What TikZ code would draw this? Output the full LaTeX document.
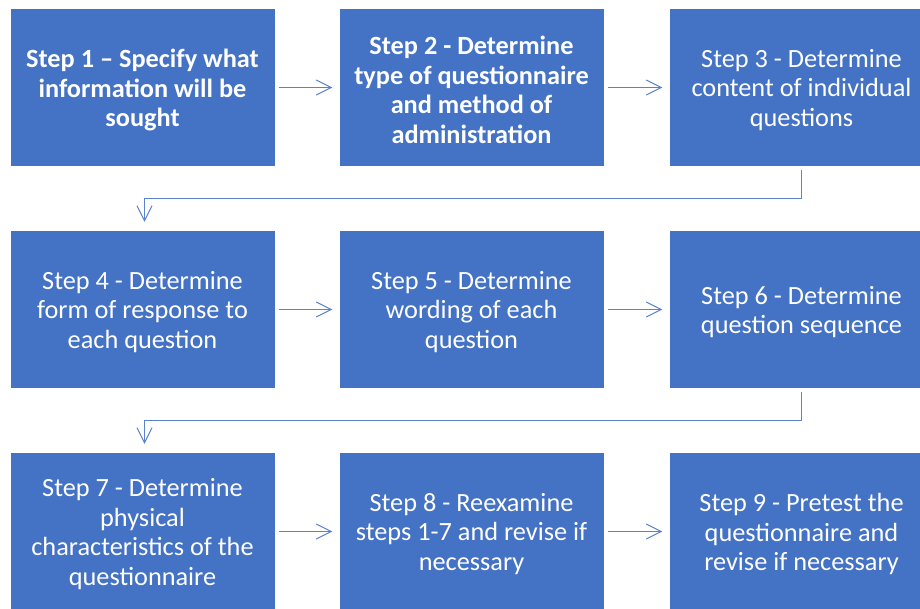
\documentclass[tikz,border=0pt]{standalone}
\usepackage{fontspec}
\setmainfont{Carlito}
\usetikzlibrary{arrows.meta}
\definecolor{stepblue}{HTML}{4472C4}
\definecolor{linkblue}{HTML}{5B82CC}
\begin{document}
\begin{tikzpicture}[x=1pt,y=-1pt,
  stepbox/.style={fill=stepblue, minimum width=264pt, minimum height=157pt, inner sep=0pt},
  steptext/.style={text=white, inner sep=0pt, align=center, yshift=-2.5pt,
    font=\fontsize{26.3}{29.6}\selectfont},
  link/.style={draw=linkblue, line width=1pt,
    -{Straight Barb[length=15pt,width=15pt,line width=1pt]}},
  flow/.style={link, shorten <=4pt, shorten >=7pt},
  wrap/.style={link, shorten <=4pt, shorten >=9pt}]
\useasboundingbox (0,0) rectangle (920,608);
\clip (0,0) rectangle (920,608);

% boxes, three rows of three
\node[stepbox] (s1) at (142.5,87.5) {};
\node[stepbox] (s2) at (471.5,87.5) {};
\node[stepbox] (s3) at (801.5,87.5) {};
\node[stepbox] (s4) at (142.5,309.5) {};
\node[stepbox] (s5) at (471.5,309.5) {};
\node[stepbox] (s6) at (801.5,309.5) {};
\node[stepbox] (s7) at (142.5,531.5) {};
\node[stepbox] (s8) at (471.5,531.5) {};
\node[stepbox] (s9) at (801.5,531.5) {};

% box labels
\node[steptext] (t1) at (s1) {\bfseries Step 1 – Specify what\\\bfseries information will be\\\bfseries sought};
\node[steptext] (t2) at (s2) {\bfseries Step 2 - Determine\\\bfseries type of questionnaire\\\bfseries and method of\\\bfseries administration};
\node[steptext] (t3) at (s3) {Step 3 - Determine\\content of individual\\questions};
\node[steptext] (t4) at (s4) {Step 4 - Determine\\form of response to\\each question};
\node[steptext] (t5) at (s5) {Step 5 - Determine\\wording of each\\question};
\node[steptext] (t6) at (s6) {Step 6 - Determine\\question sequence};
\node[steptext] (t7) at (s7) {Step 7 - Determine\\physical\\characteristics of the\\questionnaire};
\node[steptext] (t8) at (s8) {Step 8 - Reexamine\\steps 1-7 and revise if\\necessary};
\node[steptext] (t9) at (s9) {Step 9 - Pretest the\\questionnaire and\\revise if necessary};

% connectors
\draw[flow] (s1) -- (s2);
\draw[flow] (s2) -- (s3);
\draw[wrap] (s3.south) -- ++(0,32) -| ([xshift=2pt]s4.north);
\draw[flow] (s4) -- (s5);
\draw[flow] (s5) -- (s6);
\draw[wrap] (s6.south) -- ++(0,32) -| ([xshift=2pt]s7.north);
\draw[flow] (s7) -- (s8);
\draw[flow] (s8) -- (s9);
\end{tikzpicture}
\end{document}
